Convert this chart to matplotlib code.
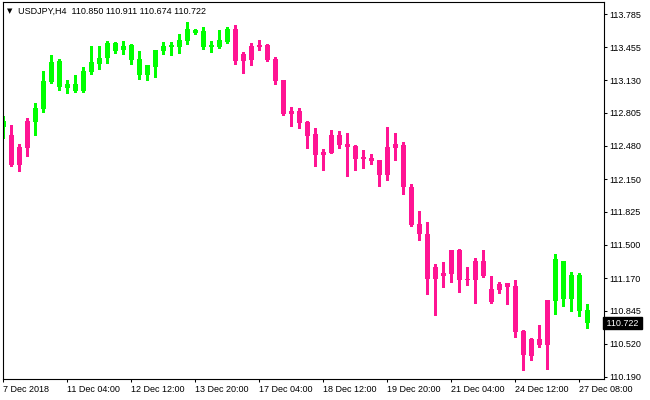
import matplotlib
matplotlib.use("Agg")
import matplotlib.pyplot as plt
import numpy as np

plt.rcParams["font.family"] = ["Liberation Sans", "DejaVu Sans"]

symbol = "USDJPY,H4"

# USDJPY H4 bars, oldest first
opens = [112.669, 112.587, 112.290, 112.461, 112.718, 112.841, 113.112, 113.320, 113.052, 113.092,
         113.022, 113.211, 113.290, 113.349, 113.498, 113.428, 113.478, 113.339, 113.181, 113.260,
         113.419, 113.466, 113.458, 113.518, 113.627, 113.617, 113.466, 113.458, 113.508, 113.637,
         113.320, 113.330, 113.458, 113.478, 113.339, 113.131, 112.795, 112.824, 112.715, 112.597,
         112.392, 112.411, 112.587, 112.498, 112.478, 112.357, 112.359, 112.339, 112.194, 112.461,
         112.488, 112.072, 111.705, 111.606, 111.164, 111.220, 111.213, 111.448, 111.156, 111.154,
         111.339, 111.061, 111.054, 111.121, 111.091, 110.648, 110.401, 110.569, 110.510, 110.946,
         111.339, 110.965, 111.200, 110.850]
highs = [112.775, 112.686, 112.498, 112.752, 112.904, 113.221, 113.379, 113.339, 113.131, 113.181,
         113.260, 113.468, 113.468, 113.518, 113.508, 113.518, 113.488, 113.419, 113.280, 113.428,
         113.508, 113.508, 113.587, 113.706, 113.637, 113.656, 113.518, 113.627, 113.656, 113.676,
         113.409, 113.498, 113.528, 113.488, 113.359, 113.131, 112.864, 112.854, 112.725, 112.656,
         112.448, 112.636, 112.626, 112.606, 112.488, 112.438, 112.398, 112.339, 112.666, 112.606,
         112.517, 112.101, 111.834, 111.725, 111.309, 111.329, 111.448, 111.458, 111.279, 111.369,
         111.448, 111.190, 111.131, 111.121, 111.151, 110.658, 110.579, 110.708, 110.955, 111.408,
         111.339, 111.230, 111.220, 110.911]
lows = [112.560, 112.280, 112.230, 112.382, 112.587, 112.817, 113.102, 113.032, 113.003, 113.012,
        113.012, 113.194, 113.240, 113.300, 113.402, 113.389, 113.290, 113.141, 113.131, 113.161,
        113.389, 113.380, 113.399, 113.488, 113.587, 113.438, 113.409, 113.448, 113.498, 113.290,
        113.201, 113.280, 113.428, 113.320, 113.092, 112.785, 112.676, 112.656, 112.461, 112.283,
        112.243, 112.411, 112.461, 112.184, 112.243, 112.263, 112.302, 112.085, 112.144, 112.342,
        112.005, 111.685, 111.550, 111.015, 110.807, 111.084, 111.134, 111.035, 111.104, 110.926,
        111.183, 110.926, 111.025, 110.916, 110.589, 110.262, 110.361, 110.490, 110.272, 110.817,
        110.896, 110.846, 110.797, 110.674]
closes = [112.725, 112.290, 112.471, 112.725, 112.854, 113.122, 113.310, 113.062, 113.092, 113.022,
          113.221, 113.310, 113.349, 113.498, 113.419, 113.468, 113.330, 113.181, 113.280, 113.428,
          113.468, 113.470, 113.528, 113.637, 113.597, 113.458, 113.470, 113.528, 113.637, 113.320,
          113.389, 113.468, 113.478, 113.330, 113.122, 112.795, 112.824, 112.706, 112.580, 112.392,
          112.418, 112.587, 112.491, 112.471, 112.352, 112.361, 112.332, 112.194, 112.468, 112.498,
          112.075, 111.695, 111.609, 111.164, 111.279, 111.193, 111.448, 111.154, 111.160, 111.339,
          111.193, 110.936, 111.111, 111.084, 110.638, 110.411, 110.569, 110.510, 110.955, 111.359,
          110.965, 111.200, 110.846, 110.722]
# colour state of each bar from the trend indicator: G = green, P = pink
trend = ("GPPPGGGGGG" "GGGGGGGGGG" "GGGGGGGGGP" "PPPPPPPPPP"
         "PPPPPPPPPP" "PPPPPPPPPP" "PPPPPPPPPG" "GGGG")

price_ticks = [113.785, 113.455, 113.130, 112.805, 112.480, 112.150,
               111.825, 111.500, 111.170, 110.845, 110.520, 110.190]
date_ticks = [0, 8, 16, 24, 32, 40, 48, 56, 64, 72]
date_labels = ["7 Dec 2018", "11 Dec 04:00", "12 Dec 12:00", "13 Dec 20:00",
               "17 Dec 04:00", "18 Dec 12:00", "19 Dec 20:00", "21 Dec 04:00",
               "24 Dec 12:00", "27 Dec 08:00"]

fig = plt.figure(figsize=(6.5, 4), dpi=100)
ax = fig.add_axes([3 / 650, 21 / 400, 601 / 650, 377 / 400])

x = np.arange(len(opens))
o = np.array(opens)
c = np.array(closes)
colors = ["#00ff00" if t == "G" else "#ff1493" for t in trend]

# wicks and bodies (dojis get a 1px body)
ax.vlines(x, lows, highs, colors=colors, linewidth=0.75, antialiased=False)
body_h = np.maximum(np.abs(c - o), 0.011)
body_lo = (o + c) / 2 - body_h / 2
ax.bar(x, body_h, bottom=body_lo, width=0.625, color=colors, linewidth=0,
       antialiased=False)

ax.set_xlim(-0.04, 75.08)
ax.set_ylim(110.170, 113.904)

ax.yaxis.tick_right()
ax.set_yticks(price_ticks)
ax.set_yticklabels([f"{p:.3f}" for p in price_ticks])
ax.set_xticks(date_ticks)
ax.set_xticklabels(date_labels, ha="left")
ax.tick_params(axis="both", direction="out", length=2.5, width=0.75,
               labelsize=6.5, pad=1.5, colors="black")
for s in ax.spines.values():
    s.set_linewidth(0.8)
    s.set_color("black")

# header line
fig.text(7 / 650, 1 - 11 / 400, "\u25bc", family="DejaVu Sans", fontsize=5,
         va="center", ha="left")
header = "{}  {:.3f} {:.3f} {:.3f} {:.3f}".format(
    symbol, opens[-1], highs[-1], lows[-1], closes[-1])
fig.text(18 / 650, 1 - 11 / 400, header, fontsize=6.5, va="center", ha="left")

# current price marker on the price scale
ax.text(1.0, closes[-1], f" {closes[-1]:.3f} ", transform=ax.get_yaxis_transform(),
        color="white", fontsize=6.5, va="center", ha="left",
        bbox=dict(boxstyle="square,pad=0.15", fc="black", ec="black"), clip_on=False)

fig.savefig("out.png", dpi=100, facecolor="white")
